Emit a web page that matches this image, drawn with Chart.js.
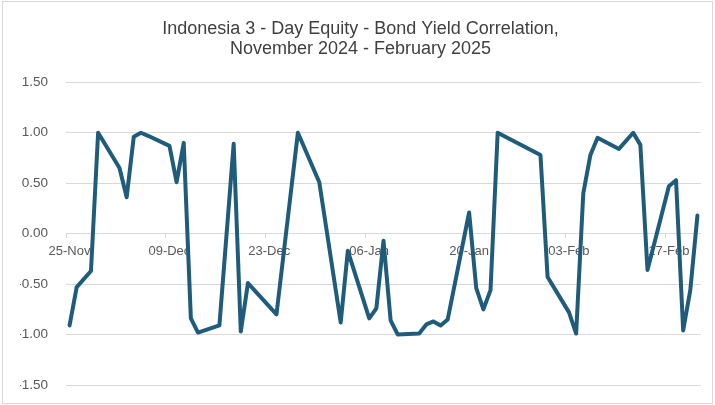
<!DOCTYPE html>
<html><head><meta charset="utf-8">
<script src="https://cdn.jsdelivr.net/npm/chart.js@4.4.1/dist/chart.umd.min.js"></script>
<style>html,body{margin:0;padding:0;background:#fff}#wrap{width:715px;height:405px;position:relative}</style>
</head><body><div id="wrap"><canvas id="c" width="715" height="405"></canvas></div>
<script>
const titleLines = ['Indonesia 3 - Day Equity - Bond Yield Correlation,', 'November 2024 - February 2025'];
const dates = ['2024-11-25','2024-11-26','2024-11-28','2024-11-29','2024-12-02','2024-12-03','2024-12-04','2024-12-05','2024-12-06',
  '2024-12-09','2024-12-10','2024-12-11','2024-12-12','2024-12-13','2024-12-16','2024-12-18','2024-12-19','2024-12-20',
  '2024-12-24','2024-12-27','2024-12-30','2025-01-02','2025-01-03','2025-01-06','2025-01-07','2025-01-08','2025-01-09',
  '2025-01-10','2025-01-13','2025-01-14','2025-01-15','2025-01-16','2025-01-17','2025-01-20','2025-01-21','2025-01-22',
  '2025-01-23','2025-01-24','2025-01-30','2025-01-31','2025-02-03','2025-02-04','2025-02-05','2025-02-06','2025-02-07',
  '2025-02-10','2025-02-12','2025-02-13','2025-02-14','2025-02-17','2025-02-18','2025-02-19','2025-02-20','2025-02-21'];
const values = [-0.91,-0.53,-0.37,1.00,0.65,0.36,0.96,1.00,0.97,
  0.87,0.51,0.90,-0.84,-0.98,-0.91,0.89,-0.97,-0.49,
  -0.80,1.00,0.51,-0.88,-0.17,-0.84,-0.74,-0.07,-0.86,
  -1.00,-0.99,-0.90,-0.87,-0.91,-0.85,0.21,-0.54,-0.75,
  -0.56,1.00,0.78,-0.43,-0.78,-0.99,0.40,0.78,0.95,
  0.84,1.00,0.88,-0.36,0.47,0.53,-0.96,-0.56,0.18];
const xTickDates = ['2024-11-25','2024-12-09','2024-12-23','2025-01-06','2025-01-20','2025-02-03','2025-02-17'];
const xTickLabels = ['25-Nov','09-Dec','23-Dec','06-Jan','20-Jan','03-Feb','17-Feb'];
const yTickValues = [-1.5,-1.0,-0.5,0,0.5,1.0,1.5];

const DAY = 86400000;
const t0 = Date.UTC(2024,10,25);
function dayOffset(s){ const p = s.split('-').map(Number); return Math.round((Date.UTC(p[0],p[1]-1,p[2])-t0)/DAY); }
const points = dates.map((d,i)=>({x: dayOffset(d), y: values[i]}));
const xTickPos = xTickDates.map(d => dayOffset(d) - 0.5);
const lastDay = dayOffset(dates[dates.length-1]);

const FONT = "'Liberation Sans', Arial, sans-serif";
const frame = {
  id: 'frame',
  beforeDraw(chart){
    const c = chart.ctx;
    c.save();
    c.fillStyle = '#fff';
    c.fillRect(0,0,chart.width,chart.height);
    c.strokeStyle = '#d9d9d9';
    c.lineWidth = 1;
    c.strokeRect(2.5,1.5,chart.width-5,chart.height-3);
    c.restore();
  }
};

new Chart(document.getElementById('c'), {
  type: 'line',
  data: { datasets: [{
    data: points,
    borderColor: '#1f5c7c',
    borderWidth: 4,
    pointRadius: 0,
    tension: 0,
    borderJoinStyle: 'round',
    borderCapStyle: 'round'
  }]},
  options: {
    responsive: false,
    animation: false,
    devicePixelRatio: 1,
    layout: { padding: { left: 20, right: 14, top: 0, bottom: 20 } },
    plugins: {
      legend: { display: false },
      tooltip: { enabled: false },
      title: {
        display: true,
        text: titleLines,
        color: '#404040',
        font: { family: FONT, size: 18, weight: 'normal', lineHeight: 1.12 },
        padding: { top: 19, bottom: 23 }
      }
    },
    scales: {
      x: {
        type: 'linear',
        min: -0.5,
        max: lastDay + 0.5,
        position: { y: 0 },
        afterBuildTicks: s => { s.ticks = xTickPos.map(v => ({ value: v })); },
        afterFit: s => { s.height = 0; },
        ticks: {
          autoSkip: false, maxRotation: 0, minRotation: 0,
          callback: (v, i) => xTickLabels[i],
          labelOffset: 3.5,
          padding: 6,
          color: '#595959',
          font: { family: FONT, size: 13 }
        },
        grid: { drawOnChartArea: false, drawTicks: true, tickLength: 4, color: '#d9d9d9' },
        border: { display: false }
      },
      y: {
        min: -1.5, max: 1.5,
        afterBuildTicks: s => { s.ticks = yTickValues.map(v => ({ value: v })); },
        afterFit: s => { s.width = 46; },
        ticks: {
          callback: v => v.toFixed(2),
          padding: 0,
          color: '#595959',
          font: { family: FONT, size: 13.5 }
        },
        grid: { color: '#d9d9d9', drawTicks: true, tickLength: 18, tickColor: 'rgba(0,0,0,0)', lineWidth: 1 },
        border: { display: false }
      }
    }
  },
  plugins: [frame]
});
</script></body></html>
